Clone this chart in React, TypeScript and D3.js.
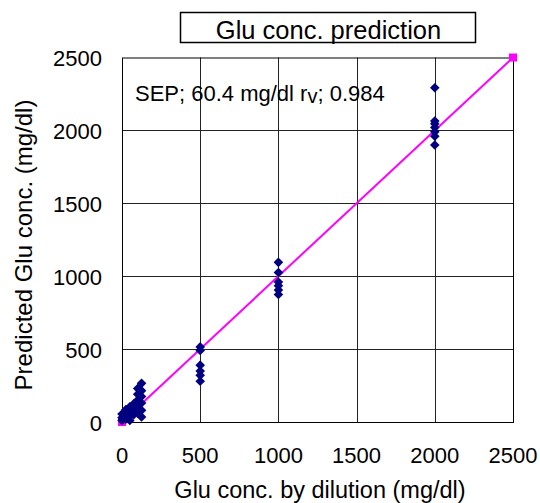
import React, { useRef, useEffect } from 'react'
import * as d3 from 'd3'

// tick values for both axes
const ticks = [0, 500, 1000, 1500, 2000, 2500]

// measured points: [by dilution, predicted]
const refX = [
  0, 0, 0, 25, 25, 25, 50, 50, 50, 50, 75, 75, 75,
  100, 100, 100, 100, 100, 125, 125, 125, 125, 125, 125,
  500, 500, 500, 500, 500, 500,
  1000, 1000, 1000, 1000, 1000, 1000,
  2000, 2000, 2000, 2000, 2000, 2000, 2000
]
const predY = [
  10, 30, 55, 20, 60, 85, 10, 40, 75, 105, 50, 95, 125,
  60, 110, 150, 190, 230, 35, 80, 130, 175, 215, 265,
  515, 490, 390, 350, 320, 280,
  1095, 1025, 960, 935, 905, 875,
  2293, 2065, 2045, 2020, 1990, 1960, 1900
]

// ideal line
const idealLine = [0, 2500]

const font = 'Liberation Sans, Arial, sans-serif'

export default function App() {
  const ref = useRef<SVGSVGElement>(null)

  useEffect(() => {
    const svg = d3.select(ref.current)
    svg.selectAll('*').remove()

    const left = 122, right = 513, top = 57.5, bottom = 422

    const x = d3.scaleLinear().domain([0, 2500]).range([left, right])
    const y = d3.scaleLinear().domain([0, 2500]).range([bottom, top])

    svg.append('rect')
      .attr('width', 540).attr('height', 503).attr('fill', '#fff')

    // grid
    const grid = svg.append('g').attr('stroke', '#222').attr('stroke-width', 1)
    ticks.slice(1, -1).forEach(t => {
      grid.append('line')
        .attr('x1', Math.round(x(t)) + 0.5).attr('x2', Math.round(x(t)) + 0.5)
        .attr('y1', top).attr('y2', bottom)
      grid.append('line')
        .attr('x1', left).attr('x2', right)
        .attr('y1', Math.round(y(t)) + 0.5).attr('y2', Math.round(y(t)) + 0.5)
    })

    svg.append('rect')
      .attr('x', left + 0.5).attr('y', top + 0.5)
      .attr('width', right - left).attr('height', bottom - top)
      .attr('fill', 'none').attr('stroke', '#000')

    // tick labels
    svg.append('g').selectAll('text')
      .data(ticks).enter().append('text')
      .attr('x', 102).attr('y', d => y(d) + 8.5)
      .attr('text-anchor', 'end')
      .attr('font-family', font).attr('font-size', 22)
      .text(d => d)

    svg.append('g').selectAll('text')
      .data(ticks).enter().append('text')
      .attr('x', d => x(d)).attr('y', 462.5)
      .attr('text-anchor', 'middle')
      .attr('font-family', font).attr('font-size', 22)
      .text(d => d)

    // axis titles
    svg.append('text')
      .attr('x', 320).attr('y', 498)
      .attr('text-anchor', 'middle')
      .attr('font-family', font).attr('font-size', 23.5)
      .text('Glu conc. by dilution (mg/dl)')

    svg.append('text')
      .attr('transform', 'translate(32,245) rotate(-90)')
      .attr('text-anchor', 'middle')
      .attr('font-family', font).attr('font-size', 24)
      .text('Predicted Glu conc. (mg/dl)')

    // title box
    svg.append('rect')
      .attr('x', 180.5).attr('y', 12.5).attr('width', 295).attr('height', 30)
      .attr('fill', '#fff').attr('stroke', '#000').attr('stroke-width', 1.5)
    svg.append('text')
      .attr('x', 328.5).attr('y', 39)
      .attr('text-anchor', 'middle')
      .attr('font-family', font).attr('font-size', 25.5)
      .text('Glu conc. prediction')

    // stats text
    const st = svg.append('text')
      .attr('x', 135).attr('y', 101)
      .attr('font-family', font).attr('font-size', 22)
    st.append('tspan').text('SEP; 60.4 mg/dl r')
    st.append('tspan').attr('font-size', 20).attr('dy', 1.5).text('v')
    st.append('tspan').attr('dy', -1.5).text('; 0.984')

    // ideal line
    svg.append('path')
      .attr('d', d3.line<number>().x(d => x(d)).y(d => y(d))(idealLine))
      .attr('fill', 'none').attr('stroke', '#ff00ff').attr('stroke-width', 2)
    svg.append('g').selectAll('rect')
      .data(idealLine).enter().append('rect')
      .attr('x', d => x(d) - 4).attr('y', d => y(d) - 4)
      .attr('width', 8).attr('height', 8)
      .attr('fill', '#ff00ff')

    // data points
    svg.append('g').selectAll('path')
      .data(refX.map((v, i) => [v, predY[i]]))
      .enter().append('path')
      .attr('transform', d => `translate(${x(d[0])},${y(d[1])}) rotate(45)`)
      .attr('d', d3.symbol().type(d3.symbolSquare).size(46)()!)
      .attr('fill', '#000080')
  }, [])

  return <svg ref={ref} width={540} height={503} style={{ display: 'block', position: 'fixed', left: 0, top: 0 }} />
}
